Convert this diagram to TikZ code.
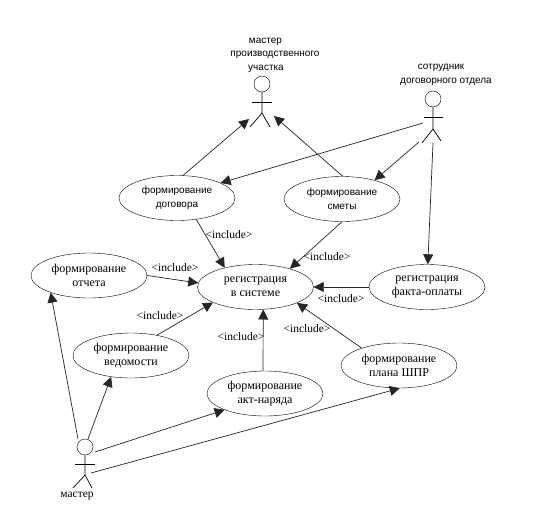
\documentclass[tikz,border=0pt]{standalone}
\usepackage{fontspec}
\setmainfont{Liberation Serif}
\newfontfamily\labelsans{Liberation Sans}
\usetikzlibrary{arrows.meta,shapes.geometric}
\tikzset{
  usecase/.style={draw=black, ellipse, inner sep=0pt, align=center, minimum width=116pt,
    minimum height=45pt, font=\fontsize{12}{14}\selectfont},
  usecasesans/.style={usecase, font=\labelsans\fontsize{10}{14}\selectfont},
  actorhead/.style={draw=black, circle, inner sep=0pt, minimum size=16pt},
  actorlabel/.style={align=center, inner sep=0pt, font=\labelsans\fontsize{10}{13.5}\selectfont},
  stick/.style={draw=black, line width=0.7pt},
  wire/.style={-{Triangle[length=10pt,width=10pt]}, draw=black!85, line width=0.7pt},
  includelabel/.style={inner sep=0pt, font=\fontsize{11.5}{12}\selectfont}
}
\begin{document}
\begin{tikzpicture}[x=1pt,y=-1pt]
  \useasboundingbox[fill=white] (0,0) rectangle (543,520);

  \node[usecasesans] (dogovor) at (177,198) {формирование\\договора};
  \node[usecasesans] (smeta) at (342,199) {формирование\\сметы};
  \node[usecase] (otchet) at (89,275.5) {формирование\\отчета};
  \node[usecase] (registr) at (255.5,287) {регистрация\\в системе};
  \node[usecase] (oplata) at (427,287) {регистрация\\факта-оплаты};
  \node[usecase] (vedom) at (131,355.5) {формирование\\ведомости};
  \node[usecase] (plan) at (399,365.5) {формирование\\плана ШПР};
  \node[usecase] (naryad) at (265,393.5) {формирование\\акт-наряда};

  \node[actorhead] (uchastok) at (262,84) {};
  \coordinate (uchastokhip) at (262,113);
  \coordinate (uchastokin1) at (249,119);
  \coordinate (uchastokin2) at (274,116);
  \draw[stick] (uchastok.south) -- (uchastokhip) -- (250,127);
  \draw[stick] (uchastokhip) -- (270,127);
  \draw[stick] (252,102) -- (272,102);
  \node[actorlabel] (uchastoklabel) at (275,55) {мастер\hspace*{19pt}\\производственного\\участка\hspace*{18pt}};

  \node[actorhead] (sotrudnik) at (433,99) {};
  \coordinate (sotrudnikhip) at (433,129);
  \coordinate (sotrudnikout1) at (423,123);
  \coordinate (sotrudnikout2) at (419,142);
  \coordinate (sotrudnikout3) at (433,143);
  \draw[stick] (sotrudnik.south) -- (sotrudnikhip) -- (422,143);
  \draw[stick] (sotrudnikhip) -- (441,141);
  \draw[stick] (424,117) -- (443,117);
  \node[actorlabel] (sotrudniklabel) at (446,75) {сотрудник\hspace*{10pt}\\договорного отдела};

  \node[actorhead] (master) at (85,447) {};
  \coordinate (masterhip) at (85,475);
  \coordinate (masterout1) at (78,439);
  \coordinate (masterout2) at (88,439);
  \coordinate (masterout3) at (95,452);
  \coordinate (masterout4) at (91,473);
  \draw[stick] (master.south) -- (masterhip) -- (73,488);
  \draw[stick] (masterhip) -- (92,488);
  \draw[stick] (75,464) -- (95,464);
  \node[includelabel] (masterlabel) at (77,496) {мастер};

  \draw[wire] (dogovor.75) -- (uchastokin1);
  \draw[wire] (smeta.88) -- (uchastokin2);
  \draw[wire] (sotrudnikout1) -- (dogovor.19);
  \draw[wire] (sotrudnikout2) -- (smeta.30);
  \draw[wire] (sotrudnikout3) -- (oplata.88);

  \draw[wire] (dogovor.-48) -- (registr.148);
  \draw[wire] (smeta.-90) -- (registr.28);
  \draw[wire] (otchet.0) -- (registr.176);
  \draw[wire] (vedom.38) -- (registr.200);
  \draw[wire] (naryad.95) -- (registr.289);
  \draw[wire] (plan.155) -- (registr.-21);
  \draw[wire] (oplata.180) -- (registr.0);

  \draw[wire] (masterout1) -- (otchet.204);
  \draw[wire] (masterout2) -- (vedom.227);
  \draw[wire] (masterout3) -- (naryad.202);
  \draw[wire] (masterout4) -- (plan.-88);

  \node[includelabel] (incdogovor) at (229,235) {<include>};
  \node[includelabel] (incsmeta) at (327,257) {<include>};
  \node[includelabel] (incotchet) at (175,268) {<include>};
  \node[includelabel] (incvedom) at (160,316) {<include>};
  \node[includelabel] (incnaryad) at (241,337) {<include>};
  \node[includelabel] (incplan) at (307,329) {<include>};
  \node[includelabel] (incoplata) at (341,299) {<include>};
\end{tikzpicture}
\end{document}
